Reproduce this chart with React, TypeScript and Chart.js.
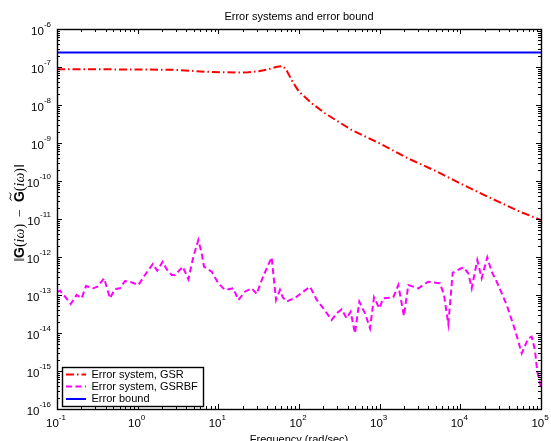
import React, { useEffect, useRef } from "react";
import { Chart, registerables } from "chart.js";

Chart.register(...registerables);

// ---------- data ----------
const gsrFreq = [0.1, 0.3, 1, 3, 4.4, 6.9, 11.2, 17, 23.4, 31.6, 41.7, 53.7, 62.7, 69, 83, 100, 144, 210, 307, 450, 1000, 2160, 4850, 10900, 25600, 54800, 100000];
const gsrErr = [8.7e-8, 8.7e-8, 8.6e-8, 8.4e-8, 8.0e-8, 7.5e-8, 7.3e-8, 7.1e-8, 7.3e-8, 7.7e-8, 8.7e-8, 1.02e-7, 1.06e-7, 8.7e-8, 4.1e-8, 2.24e-8, 1.11e-8, 6.05e-9, 3.64e-9, 2.2e-9, 9.8e-10, 4.1e-10, 1.87e-10, 7.85e-11, 3.3e-11, 1.56e-11, 9.4e-12];

const gsrbfFreq = [
  0.1, 0.109, 0.126, 0.148, 0.175, 0.202, 0.229, 0.282, 0.316, 0.383,
  0.454, 0.524, 0.604, 0.697, 0.803, 1.02, 1.23, 1.54, 1.75, 2.04,
  2.29, 2.64, 2.9, 3.62, 4.25, 4.9, 5.65, 6.22, 6.64, 8.28,
  10.0, 12.1, 15.3, 17.7, 21.4, 25.9, 29.9, 34.5, 39.8, 45.8,
  51.9, 58.1, 62.8, 70.4, 93.6, 103, 137, 166, 200, 254,
  293, 338, 390, 437, 494, 559, 658, 759, 851, 989,
  1109, 1476, 1702, 2000, 2263, 3013, 4008, 5597, 6270, 7096,
  8040, 10890, 12560, 13840, 16220, 18400, 21580, 24480, 28240, 37580,
  47640, 57680, 69550, 76600, 84200, 89900, 100000,
];
const gsrbfErr = [
  1.22e-13, 1.3e-13, 9.0e-14, 5.8e-14, 1.0e-13, 8.2e-14, 1.73e-13, 1.5e-13, 1.65e-13, 2.75e-13,
  8.2e-14, 1.44e-13, 1.5e-13, 2.34e-13, 2.24e-13, 1.83e-13, 3.36e-13, 6.55e-13, 4.36e-13, 7.5e-13,
  4.75e-13, 3.36e-13, 3.36e-13, 5.56e-13, 2.59e-13, 1.02e-12, 2.8e-12, 1.25e-12, 5.56e-13, 4.1e-13,
  2.03e-13, 1.36e-13, 1.5e-13, 7.4e-14, 1.22e-13, 1.5e-13, 1.06e-13, 2.48e-13, 5.05e-13, 9.8e-13,
  7.4e-14, 1.36e-13, 8.7e-14, 6.7e-14, 9.0e-14, 1.06e-13, 1.65e-13, 7.4e-14, 4.47e-14, 2.2e-14,
  3.3e-14, 4.2e-14, 2.44e-14, 3.64e-14, 9.8e-15, 6.7e-14, 3.3e-14, 1.33e-14, 8.7e-14, 4.47e-14,
  8.2e-14, 8.7e-14, 1.83e-13, 2.8e-14, 1.83e-13, 1.5e-13, 2.24e-13, 2.03e-13, 1.0e-13, 1.73e-14,
  3.86e-13, 5.36e-13, 3.72e-13, 1.5e-13, 8.3e-13, 2.75e-13, 9.8e-13, 4.1e-13, 2.24e-13, 5.46e-14,
  1.2e-14, 2.92e-15, 7.26e-15, 8.0e-15, 3.57e-15, 9.6e-16, 3.8e-16,
];

const boundFreq = [0.1, 100000];
const boundErr = [2.4e-7, 2.4e-7];

const xExponents = [-1, 0, 1, 2, 3, 4, 5];
const yExponents = [-16, -15, -14, -13, -12, -11, -10, -9, -8, -7, -6];

const seriesLabels = ["Error system, GSR", "Error system, GSRBF", "Error bound"];
const titleText = "Error systems and error bound";
const xTitleText = "Frequency (rad/sec)";

const SANS = '"Liberation Sans", Arial, Helvetica, sans-serif';
const SERIF = '"Liberation Serif", "DejaVu Serif", serif';

function expText(e: number) {
  return (e < 0 ? "-" : "") + Math.abs(e);
}

const matlabPlugin = {
  id: "matlabAxes",
  afterDraw(chart: any) {
    const ctx: CanvasRenderingContext2D = chart.ctx;
    const a = chart.chartArea;
    const xs = chart.scales.x;
    const ys = chart.scales.y;
    ctx.save();

    // ticks
    ctx.strokeStyle = "#000";
    ctx.lineWidth = 1;
    ctx.beginPath();
    for (let d = xExponents[0]; d <= xExponents[xExponents.length - 1]; d++) {
      for (let m = 1; m <= 9; m++) {
        const v = m * Math.pow(10, d);
        if (v > xs.max * 1.0001) break;
        const px = Math.round(xs.getPixelForValue(v)) + 0.5;
        const len = m === 1 ? 5 : 3;
        ctx.moveTo(px, a.bottom);
        ctx.lineTo(px, a.bottom - len);
        ctx.moveTo(px, a.top);
        ctx.lineTo(px, a.top + len);
      }
    }
    for (let d = yExponents[0]; d <= yExponents[yExponents.length - 1]; d++) {
      for (let m = 1; m <= 9; m++) {
        const v = m * Math.pow(10, d);
        if (v > ys.max * 1.0001) break;
        const py = Math.round(ys.getPixelForValue(v)) + 0.5;
        const len = m === 1 ? 5 : 3;
        ctx.moveTo(a.left, py);
        ctx.lineTo(a.left + len, py);
        ctx.moveTo(a.right, py);
        ctx.lineTo(a.right - len, py);
      }
    }
    ctx.stroke();

    // box
    ctx.lineWidth = 1.4;
    ctx.strokeRect(a.left + 0.5, a.top + 0.5, a.right - a.left, a.bottom - a.top);

    // tick labels
    ctx.fillStyle = "#000";
    ctx.textBaseline = "middle";
    ctx.textAlign = "left";
    const baseFont = `11.5px ${SANS}`;
    const expFont = `8px ${SANS}`;
    for (const e of xExponents) {
      const px = xs.getPixelForValue(Math.pow(10, e));
      ctx.font = baseFont;
      const bw = ctx.measureText("10").width;
      ctx.font = expFont;
      const et = expText(e);
      const ew = ctx.measureText(et).width;
      const start = px - (bw + ew) / 2 - 1;
      ctx.font = baseFont;
      ctx.fillText("10", start, a.bottom + 15);
      ctx.font = expFont;
      ctx.fillText(et, start + bw, a.bottom + 8.5);
    }
    for (const e of yExponents) {
      const py = ys.getPixelForValue(Math.pow(10, e));
      ctx.font = expFont;
      const et = expText(e);
      const ew = ctx.measureText(et).width;
      ctx.font = baseFont;
      const bw = ctx.measureText("10").width;
      const right = a.left - 6;
      ctx.fillText("10", right - ew - bw, py + 2.5);
      ctx.font = expFont;
      ctx.fillText(et, right - ew, py - 4);
    }

    // title
    ctx.font = `11px ${SANS}`;
    ctx.textAlign = "center";
    ctx.fillText(titleText, (a.left + a.right) / 2, 17);
    // x title
    ctx.textBaseline = "top";
    ctx.fillText(xTitleText, (a.left + a.right) / 2, a.bottom + 25);

    // y title (rotated, with math styling)
    const size = 14;
    const segs = [
      { t: "\u2016", f: `${size}px ${SERIF}` },
      { t: "G", f: `bold ${size}px ${SANS}` },
      { t: "(", f: `${size}px ${SERIF}` },
      { t: "i\u03C9", f: `italic ${size}px ${SERIF}` },
      { t: ")  \u2212  ", f: `${size}px ${SERIF}` },
      { t: "G", f: `bold ${size}px ${SANS}`, tilde: true },
      { t: "(", f: `${size}px ${SERIF}` },
      { t: "i\u03C9", f: `italic ${size}px ${SERIF}` },
      { t: ")", f: `${size}px ${SERIF}` },
      { t: "\u2016", f: `${size}px ${SERIF}` },
    ] as { t: string; f: string; tilde?: boolean }[];
    let total = 0;
    const widths: number[] = [];
    for (const s of segs) {
      ctx.font = s.f;
      const w = ctx.measureText(s.t).width;
      widths.push(w);
      total += w;
    }
    ctx.save();
    ctx.translate(20, (a.top + a.bottom) / 2 - 6);
    ctx.rotate(-Math.PI / 2);
    ctx.textAlign = "left";
    ctx.textBaseline = "middle";
    let cx = -total / 2;
    segs.forEach((s, i) => {
      ctx.font = s.f;
      ctx.fillText(s.t, cx, 0);
      if (s.tilde) {
        const mx = cx + widths[i] / 2;
        ctx.beginPath();
        ctx.lineWidth = 1;
        ctx.moveTo(mx - 4, -8.5);
        ctx.quadraticCurveTo(mx - 2, -11, mx, -9.5);
        ctx.quadraticCurveTo(mx + 2, -8, mx + 4, -10.5);
        ctx.stroke();
      }
      cx += widths[i];
    });
    ctx.restore();

    // legend
    const lx = 62, ly = 367, lw = 141, lh = 39;
    ctx.fillStyle = "#fff";
    ctx.fillRect(lx, ly, lw, lh);
    ctx.strokeStyle = "#000";
    ctx.lineWidth = 1.4;
    ctx.strokeRect(lx + 0.5, ly + 0.5, lw, lh);
    ctx.font = `11px ${SANS}`;
    ctx.textAlign = "left";
    ctx.textBaseline = "middle";
    const rowY = [374.5, 386.5, 399];
    chart.data.datasets.forEach((ds: any, i: number) => {
      const y = rowY[i];
      ctx.save();
      ctx.strokeStyle = ds.borderColor;
      ctx.lineWidth = ds.borderWidth;
      ctx.setLineDash(ds.borderDash || []);
      ctx.beginPath();
      ctx.moveTo(66, y);
      ctx.lineTo(86, y);
      ctx.stroke();
      ctx.restore();
      ctx.fillStyle = "#000";
      ctx.fillText(ds.label, 91.5, y);
    });

    ctx.restore();
  },
};

export default function App() {
  const ref = useRef<HTMLCanvasElement>(null);
  useEffect(() => {
    const canvas = ref.current!;
    const chart = new Chart(canvas, {
      type: "line",
      data: {
        datasets: [
          {
            label: seriesLabels[0],
            data: gsrFreq.map((f, i) => ({ x: f, y: gsrErr[i] })),
            borderColor: "#ff0000",
            borderWidth: 2,
            borderDash: [8, 3, 1.5, 3],
            pointRadius: 0,
            fill: false,
            tension: 0,
          },
          {
            label: seriesLabels[1],
            data: gsrbfFreq.map((f, i) => ({ x: f, y: gsrbfErr[i] })),
            borderColor: "#ff00ff",
            borderWidth: 2,
            borderDash: [6, 3.5],
            pointRadius: 0,
            fill: false,
            tension: 0,
          },
          {
            label: seriesLabels[2],
            data: boundFreq.map((f, i) => ({ x: f, y: boundErr[i] })),
            borderColor: "#0000ff",
            borderWidth: 2,
            pointRadius: 0,
            fill: false,
            tension: 0,
          },
        ],
      },
      options: {
        animation: false,
        responsive: false,
        events: [],
        layout: { padding: { left: 57, right: 10, top: 29, bottom: 32 } },
        scales: {
          x: { type: "logarithmic", min: 0.1, max: 1e5, display: false },
          y: { type: "logarithmic", min: 1e-16, max: 1e-6, display: false },
        },
        plugins: {
          legend: { display: false },
          title: { display: false },
          tooltip: { enabled: false },
        },
      } as any,
      plugins: [matlabPlugin],
    });
    return () => chart.destroy();
  }, []);

  return (
    <div style={{ position: "fixed", left: 0, top: 0, width: 551, height: 441, background: "#fff" }}>
      <canvas ref={ref} width={551} height={441} style={{ display: "block" }} />
    </div>
  );
}
